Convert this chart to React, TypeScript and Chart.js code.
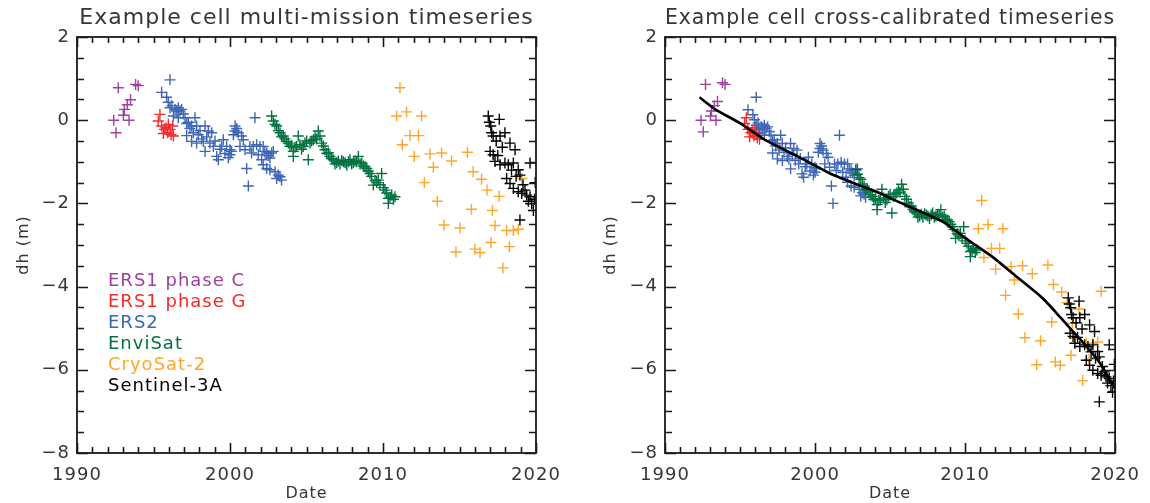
import React, { useEffect, useRef } from "react";
import { Chart, registerables } from "chart.js";

Chart.register(...registerables);

const FONT = '"DejaVu Sans", "Liberation Sans", sans-serif';
const TEXT = "#363636";

const MISSIONS = ["ERS1 phase C", "ERS1 phase G", "ERS2", "EnviSat", "CryoSat-2", "Sentinel-3A"];
const MISSION_COLORS = ["#a0409e", "#f22b2b", "#3d66b5", "#00723f", "#ffa52a", "#000000"];

const X_TICKS = [1990, 2000, 2010, 2020];
const Y_TICKS = [-8, -6, -4, -2, 0, 2];

const TITLE_LEFT = "Example cell multi-mission timeseries";
const TITLE_RIGHT = "Example cell cross-calibrated timeseries";

// ---- ERS1 phase C
const ERS1C_T = [1992.4, 1992.55, 1992.7, 1993.03, 1993.1, 1993.29, 1993.4, 1993.5, 1993.83, 1994.0];
const ERS1C_RAW = [0.0, -0.3, 0.78, 0.12, 0.26, 0.37, 0.0, 0.49, 0.86, 0.83];
const ERS1C_CAL = [0.0, -0.28, 0.86, 0.1, 0.22, 0.35, 0.0, 0.45, 0.9, 0.86];

// ---- ERS1 phase G
const ERS1G_T = [1995.31, 1995.42, 1995.53, 1995.64, 1995.72, 1995.82, 1995.93, 1995.97, 1996.08, 1996.15, 1996.25, 1996.3];
const ERS1G_RAW = [-0.02, 0.14, -0.14, -0.32, -0.22, -0.18, -0.3, -0.1, -0.22, -0.35, -0.14, -0.38];
const ERS1G_CAL = [-0.08, 0.06, -0.22, -0.4, -0.3, -0.26, -0.38, -0.18, -0.3, -0.43, -0.22, -0.46];

// ---- ERS2
const ERS2_T = [
  1995.53, 1995.86, 1995.97, 1996.08, 1996.08, 1996.2, 1996.3, 1996.41, 1996.52, 1996.62, 1996.62, 1996.73, 1996.84,
  1996.95, 1997.06, 1997.17, 1997.17, 1997.28, 1997.38, 1997.49, 1997.49, 1997.6, 1997.71, 1997.82, 1997.82, 1997.93,
  1998.04, 1998.15, 1998.26, 1998.37, 1998.37, 1998.48, 1998.58, 1998.69, 1998.8, 1998.91, 1999.02, 1999.13, 1999.24,
  1999.35, 1999.45, 1999.56, 1999.67, 1999.78, 1999.89, 2000.0, 2000.0, 2000.1, 2000.22, 2000.33, 2000.33, 2000.44,
  2000.54, 2000.65, 2000.76, 2000.87, 2000.98, 2001.09, 2001.2, 2001.3, 2001.41, 2001.52, 2001.63, 2001.74, 2001.85,
  2001.96, 2002.07, 2002.17, 2002.17, 2002.28, 2002.4, 2002.4, 2002.5, 2002.61, 2002.61, 2002.72, 2002.83, 2002.94,
  2003.05, 2003.16, 2003.27, 2003.37,
];
const ERS2_RAW = [
  0.67, 0.55, 0.43, 0.97, 0.3, 0.35, 0.1, 0.26, 0.22, 0.3, 0.06, 0.22, 0.26,
  0.15, 0.06, -0.08, -0.37, -0.05, -0.2, -0.14, -0.51, -0.3, 0.06, -0.14, -0.55, -0.35,
  -0.25, -0.45, -0.51, -0.14, -0.75, -0.4, -0.26, -0.55, -0.3, -0.63, -0.5, -0.87, -0.95,
  -0.7, -0.63, -0.47, -0.8, -0.63, -0.9, -0.71, -0.83, -0.75, -0.35, -0.14, -0.26, -0.2,
  -0.3, -0.63, -0.38, -0.47, -0.71, -1.16, -1.58, -0.63, -0.79, -0.63, 0.06, -0.59, -0.83,
  -0.63, -0.95, -0.63, -1.07, -0.75, -0.79, -1.16, -0.85, -0.91, -1.19, -0.79, -0.75, -1.24,
  -1.4, -1.32, -1.36, -1.44,
];
const ERS2_CAL = [
  0.25, 0.13, 0.01, 0.55, -0.12, -0.07, -0.32, -0.16, -0.2, -0.12, -0.36, -0.2, -0.16,
  -0.27, -0.36, -0.5, -0.79, -0.47, -0.62, -0.56, -0.93, -0.72, -0.36, -0.56, -0.97, -0.77,
  -0.67, -0.87, -0.93, -0.56, -1.17, -0.82, -0.68, -0.97, -0.72, -1.05, -0.92, -1.29, -1.37,
  -1.12, -1.05, -0.89, -1.22, -1.05, -1.32, -1.13, -1.25, -1.17, -0.77, -0.56, -0.68, -0.62,
  -0.72, -1.05, -0.8, -0.89, -1.13, -1.58, -2.0, -1.05, -1.21, -1.05, -0.36, -1.01, -1.25,
  -1.05, -1.37, -1.05, -1.49, -1.17, -1.21, -1.58, -1.27, -1.33, -1.61, -1.21, -1.17, -1.66,
  -1.82, -1.74, -1.78, -1.86,
];

// ---- EnviSat
const ENVI_T = [
  2002.72, 2002.83, 2002.94, 2003.05, 2003.16, 2003.27, 2003.37, 2003.48, 2003.59, 2003.7, 2003.81, 2003.92, 2004.03,
  2004.14, 2004.14, 2004.25, 2004.35, 2004.46, 2004.57, 2004.68, 2004.79, 2004.9, 2005.01, 2005.12, 2005.23, 2005.34,
  2005.45, 2005.56, 2005.66, 2005.77, 2005.88, 2005.99, 2006.1, 2006.21, 2006.32, 2006.43, 2006.54, 2006.65, 2006.75,
  2006.86, 2006.97, 2007.08, 2007.19, 2007.3, 2007.41, 2007.52, 2007.63, 2007.74, 2007.84, 2007.95, 2008.06, 2008.17,
  2008.28, 2008.39, 2008.5, 2008.61, 2008.72, 2008.83, 2008.94, 2009.04, 2009.15, 2009.26, 2009.37, 2009.48, 2009.59,
  2009.69, 2009.8, 2009.91, 2010.02, 2010.13, 2010.24, 2010.35, 2010.35, 2010.46, 2010.57, 2010.68, 2010.78,
];
const ENVI_RAW = [
  0.1, -0.02, -0.1, -0.14, -0.25, -0.3, -0.4, -0.38, -0.45, -0.51, -0.55, -0.63, -0.6,
  -0.75, -0.87, -0.65, -0.63, -0.38, -0.59, -0.7, -0.63, -0.55, -0.5, -0.95, -0.55, -0.5,
  -0.47, -0.4, -0.45, -0.26, -0.38, -0.55, -0.62, -0.71, -0.8, -0.78, -0.87, -0.92, -0.95,
  -1.05, -1.02, -0.98, -1.05, -0.97, -1.0, -1.02, -1.08, -1.0, -0.95, -1.05, -1.02, -0.98,
  -1.0, -0.87, -1.05, -1.03, -1.1, -1.12, -1.16, -1.22, -1.28, -1.35, -1.56, -1.45, -1.5,
  -1.44, -1.55, -1.28, -1.62, -1.68, -1.75, -1.88, -2.0, -1.85, -1.8, -1.9, -1.84,
];
const ENVI_CAL = [
  -1.18, -1.3, -1.38, -1.42, -1.53, -1.58, -1.68, -1.66, -1.73, -1.79, -1.83, -1.91, -1.88,
  -2.03, -2.15, -1.93, -1.91, -1.66, -1.87, -1.98, -1.91, -1.83, -1.78, -2.23, -1.83, -1.78,
  -1.75, -1.68, -1.73, -1.54, -1.66, -1.83, -1.9, -1.99, -2.08, -2.06, -2.15, -2.2, -2.23,
  -2.33, -2.3, -2.26, -2.33, -2.25, -2.28, -2.3, -2.36, -2.28, -2.23, -2.33, -2.3, -2.26,
  -2.28, -2.15, -2.33, -2.31, -2.38, -2.4, -2.44, -2.5, -2.56, -2.63, -2.84, -2.73, -2.78,
  -2.72, -2.83, -2.56, -2.9, -2.96, -3.03, -3.16, -3.28, -3.13, -3.08, -3.18, -3.12,
];

// ---- CryoSat-2
const CS2_T = [
  2010.89, 2011.11, 2011.26, 2011.54, 2011.76, 2012.04, 2012.31, 2012.52, 2012.7, 2013.07, 2013.29, 2013.55, 2013.83,
  2013.99, 2014.48, 2014.77, 2015.03, 2015.52, 2015.78, 2015.89, 2016.01, 2016.34, 2016.44, 2016.8, 2017.06, 2017.15,
  2017.32, 2017.59, 2017.84, 2018.08, 2018.26, 2018.52, 2018.84, 2019.07,
];
const CS2_RAW = [
  0.1, 0.78, -0.59, 0.2, -0.37, -0.87, -0.37, 0.1, -1.5, -0.81, -1.13, -1.95, -0.79,
  -2.52, -0.98, -3.17, -2.59, -0.77, -2.14, -1.24, -3.1, -3.18, -1.42, -1.68, -2.94, -2.17,
  -2.53, -1.83, -3.55, -2.65, -3.04, -2.65, -2.62, -1.4,
];
const CS2_CAL = [
  -2.61, -1.93, -3.3, -2.51, -3.08, -3.58, -3.08, -2.61, -4.21, -3.52, -3.84, -4.66, -3.5,
  -5.23, -3.69, -5.88, -5.3, -3.48, -4.85, -3.95, -5.81, -5.89, -4.13, -4.39, -5.65, -4.88,
  -5.24, -4.54, -6.26, -5.36, -5.75, -5.36, -5.33, -4.11,
];

// ---- Sentinel-3A
const S3A_T = [
  2016.88, 2016.95, 2017.0, 2017.04, 2017.1, 2017.2, 2017.2, 2017.32, 2017.4, 2017.5, 2017.6, 2017.65, 2017.65,
  2017.8, 2017.97, 2017.97, 2018.08, 2018.19, 2018.3, 2018.3, 2018.4, 2018.52, 2018.52, 2018.63, 2018.7, 2018.84,
  2018.84, 2018.95, 2018.95, 2019.07, 2019.15, 2019.28, 2019.39, 2019.5, 2019.61, 2019.61, 2019.72, 2019.83, 2019.9,
  2019.95,
];
const S3A_RAW = [
  0.1, -0.05, -0.75, -0.14, -0.3, -0.38, -0.83, -0.99, -0.5, -0.85, 0.02, -0.38, -1.07,
  -0.65, -0.3, -1.03, -1.4, -1.07, -0.55, -1.52, -1.2, -1.03, -1.64, -0.71, -1.35, -1.19,
  -1.72, -1.32, -2.4, -1.76, -1.55, -1.68, -1.8, -1.95, -1.03, -1.84, -2.01, -2.17, -1.9,
  -1.5,
];
const S3A_CAL = [
  -4.27, -4.42, -5.12, -4.51, -4.67, -4.75, -5.2, -5.36, -4.87, -5.22, -4.35, -4.75, -5.44,
  -5.02, -4.67, -5.4, -5.77, -5.44, -4.92, -5.89, -5.57, -5.4, -6.01, -5.08, -5.72, -5.56,
  -6.09, -5.69, -6.77, -6.13, -5.92, -6.05, -6.17, -6.32, -5.4, -6.21, -6.38, -6.54, -6.27,
  -5.87,
];

// ---- cross-calibrated trend line (right panel)
const FIT_T = [1992.3, 1993.4, 1995.0, 1996.7, 1998.9, 2001.0, 2003.2, 2004.1, 2005.3, 2006.3, 2008.5, 2010.2, 2011.8, 2013.3, 2014.8, 2015.5, 2016.4, 2017.2, 2018.1, 2019.0, 2019.4, 2020.0];
const FIT_DH = [0.55, 0.25, -0.07, -0.48, -0.88, -1.28, -1.6, -1.72, -1.92, -2.08, -2.44, -2.88, -3.28, -3.72, -4.16, -4.4, -4.76, -5.08, -5.44, -5.84, -6.08, -6.45];

const TIMES = [ERS1C_T, ERS1G_T, ERS2_T, ENVI_T, CS2_T, S3A_T];
const RAW = [ERS1C_RAW, ERS1G_RAW, ERS2_RAW, ENVI_RAW, CS2_RAW, S3A_RAW];
const CAL = [ERS1C_CAL, ERS1G_CAL, ERS2_CAL, ENVI_CAL, CS2_CAL, S3A_CAL];

function fmtTick(v: number): string {
  return v < 0 ? "\u2212" + Math.abs(v) : String(v);
}

const framePlugin = {
  id: "idlFrame",
  afterDraw(chart: any) {
    const { ctx, chartArea, scales } = chart;
    const { left, right, top, bottom } = chartArea;
    const xs = scales.x;
    const ys = scales.y;
    ctx.save();
    ctx.strokeStyle = "#1a1a1a";
    ctx.lineWidth = 1.6;
    for (let yr = 1990; yr <= 2020; yr++) {
      const px = Math.round(xs.getPixelForValue(yr)) + 0.5;
      const len = yr % 10 === 0 ? 10 : 6;
      ctx.beginPath();
      ctx.moveTo(px, bottom);
      ctx.lineTo(px, bottom - len);
      ctx.moveTo(px, top);
      ctx.lineTo(px, top + len);
      ctx.stroke();
    }
    for (let k = 0; k <= 20; k++) {
      const v = -8 + k * 0.5;
      const py = Math.round(ys.getPixelForValue(v)) + 0.5;
      const len = k % 4 === 0 ? 11 : 7;
      ctx.beginPath();
      ctx.moveTo(left, py);
      ctx.lineTo(left + len, py);
      ctx.moveTo(right, py);
      ctx.lineTo(right - len, py);
      ctx.stroke();
    }
    ctx.lineWidth = 1.8;
    ctx.strokeRect(left, top, right - left, bottom - top);
    ctx.restore();
  },
};

const spacingPlugin = {
  id: "letterSpacing",
  beforeDraw(chart: any) {
    (chart.ctx as any).letterSpacing = "1px";
  },
  afterDatasetsDraw(chart: any) {
    (chart.ctx as any).letterSpacing = "1px";
  },
};

const legendPlugin = {
  id: "textLegend",
  afterDraw(chart: any) {
    const { ctx, chartArea } = chart;
    ctx.save();
    (ctx as any).letterSpacing = "1px";
    ctx.font = `18px ${FONT}`;
    ctx.textAlign = "left";
    ctx.textBaseline = "middle";
    MISSIONS.forEach((name, i) => {
      ctx.fillStyle = MISSION_COLORS[i];
      ctx.fillText(name, chartArea.left + 31, chartArea.top + 244 + i * 21);
    });
    ctx.restore();
  },
};

function buildConfig(calibrated: boolean): any {
  const values = calibrated ? CAL : RAW;
  const datasets: any[] = MISSIONS.map((name, i) => ({
    type: "scatter",
    label: name,
    data: TIMES[i].map((t, j) => ({ x: t, y: values[i][j] })),
    pointStyle: "cross",
    pointRadius: 5.5,
    pointHoverRadius: 5.5,
    pointBorderWidth: 1.4,
    borderColor: MISSION_COLORS[i],
    backgroundColor: MISSION_COLORS[i],
    showLine: false,
    order: 10 - i,
  }));
  if (calibrated) {
    datasets.push({
      type: "line",
      label: "fit",
      data: FIT_T.map((t, j) => ({ x: t, y: FIT_DH[j] })),
      borderColor: "#000000",
      borderWidth: 2.6,
      pointRadius: 0,
      tension: 0.2,
      order: 0,
    });
  }
  const yAxisWidth = calibrated ? 90 : 77;
  const yTitlePad = calibrated ? 26 : 14;
  return {
    type: "scatter",
    data: { datasets },
    options: {
      animation: false,
      responsive: true,
      maintainAspectRatio: false,
      events: [],
      layout: { padding: { left: 0, top: 0, right: calibrated ? 28 : 39, bottom: 0 } },
      plugins: {
        legend: { display: false },
        tooltip: { enabled: false },
        title: {
          display: true,
          fullSize: false,
          text: calibrated ? TITLE_RIGHT : TITLE_LEFT,
          color: TEXT,
          font: { family: FONT, size: 22, weight: "normal", lineHeight: 1.2 },
          padding: { top: 5, bottom: 5.6 },
        },
      },
      scales: {
        x: {
          type: "linear",
          min: 1990,
          max: 2020,
          afterBuildTicks: (s: any) => {
            s.ticks = X_TICKS.map((v) => ({ value: v }));
          },
          afterFit: (s: any) => {
            s.height = 50;
          },
          ticks: {
            callback: (v: any) => String(v),
            font: { family: FONT, size: 18 },
            color: TEXT,
            padding: 12,
            maxRotation: 0,
            autoSkip: false,
          },
          grid: { display: false, drawTicks: false },
          border: { display: false },
          title: {
            display: true,
            text: "Date",
            color: TEXT,
            font: { family: FONT, size: 16, lineHeight: 1.2 },
            padding: { top: 0, bottom: 0 },
          },
        },
        y: {
          type: "linear",
          min: -8,
          max: 2,
          afterBuildTicks: (s: any) => {
            s.ticks = Y_TICKS.map((v) => ({ value: v }));
          },
          afterFit: (s: any) => {
            s.width = yAxisWidth;
          },
          ticks: {
            callback: (v: any) => fmtTick(Number(v)),
            font: { family: FONT, size: 18 },
            color: TEXT,
            padding: 7,
            autoSkip: false,
          },
          grid: { display: false, drawTicks: false },
          border: { display: false },
          title: {
            display: true,
            text: "dh (m)",
            color: TEXT,
            font: { family: FONT, size: 16, lineHeight: 1.2 },
            padding: { top: yTitlePad, bottom: 0 },
          },
        },
      },
    },
    plugins: calibrated ? [spacingPlugin, framePlugin] : [spacingPlugin, framePlugin, legendPlugin],
  };
}

function Panel({ calibrated }: { calibrated: boolean }) {
  const ref = useRef<HTMLCanvasElement | null>(null);
  useEffect(() => {
    if (!ref.current) return;
    const chart = new Chart(ref.current, buildConfig(calibrated));
    return () => chart.destroy();
  }, [calibrated]);
  return (
    <div style={{ position: "relative", width: 575, height: 503 }}>
      <canvas ref={ref} />
    </div>
  );
}

export default function App() {
  return (
    <div
      style={{
        position: "absolute",
        left: 0,
        top: 0,
        width: 1150,
        height: 503,
        display: "flex",
        background: "#ffffff",
      }}
    >
      <Panel calibrated={false} />
      <Panel calibrated={true} />
    </div>
  );
}
